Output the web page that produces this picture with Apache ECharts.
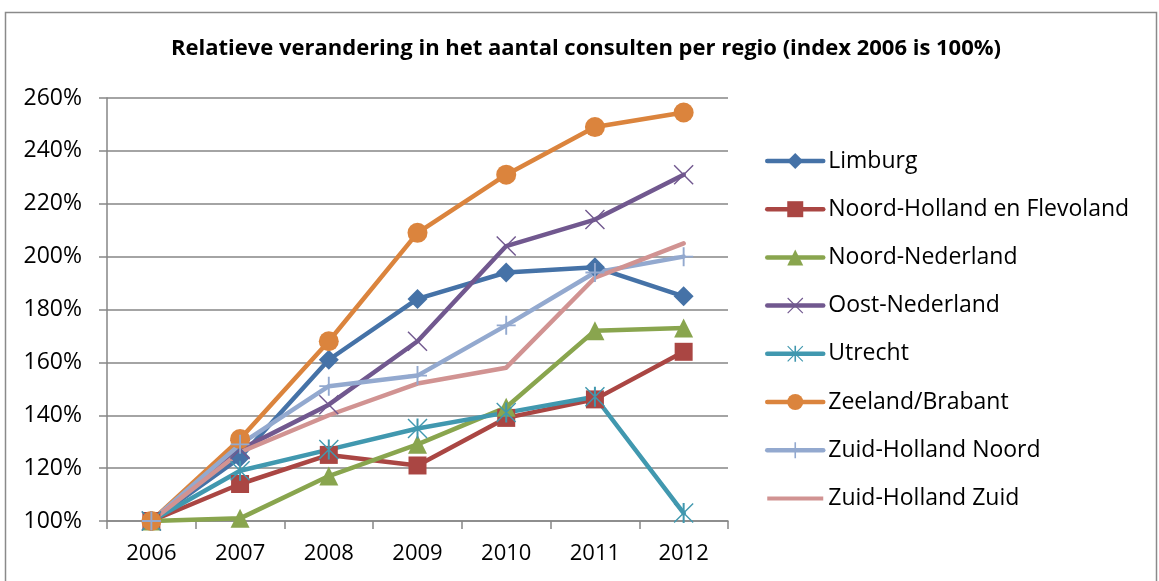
<!DOCTYPE html>
<html>
<head>
<meta charset="utf-8">
<script src="https://cdn.jsdelivr.net/npm/echarts@6/dist/echarts.min.js"></script>
<style>
html,body{margin:0;padding:0;background:#fff;}
#chart{width:1159px;height:581px;}
</style>
</head>
<body>
<div id="chart"></div>
<script>
var titleText = 'Relatieve verandering in het aantal consulten per regio (index 2006 is 100%)';
var categories = ['2006', '2007', '2008', '2009', '2010', '2011', '2012'];
var seriesNames = ['Limburg', 'Noord-Holland en Flevoland', 'Noord-Nederland', 'Oost-Nederland', 'Utrecht', 'Zeeland/Brabant', 'Zuid-Holland Noord', 'Zuid-Holland Zuid'];
var limburg        = [100, 124, 161, 184, 194, 196, 185];
var nhFlevoland    = [100, 114, 125, 121, 139, 146, 164];
var noordNederland = [100, 101, 117, 129, 143, 172, 173];
var oostNederland  = [100, 127, 144, 168, 204, 214, 231];
var utrecht        = [100, 119, 127, 135, 141, 147, 103];
var zeelandBrabant = [100, 131, 168, 209, 231, 249, 254.5];
var zhNoord        = [100, 129, 151, 155, 174, 194, 200];
var zhZuid         = [100, 126, 140, 152, 158, 192, 205];
var yTicks = {min: 100, max: 260, interval: 20};

var FONT = '"Open Sans", Lato, sans-serif';
var colors = ['#4572A7', '#AA4643', '#89A54E', '#71588F', '#4198AF', '#DB843D', '#93A9CF', '#D19392'];
var P_X = 'path://M-9,-10 L10,9 L9,10 L-10,-9 Z M10,-9 L-9,10 L-10,9 L9,-10 Z';
var P_STAR = 'path://M-9,-10 L10,9 L9,10 L-10,-9 Z M10,-9 L-9,10 L-10,9 L9,-10 Z M-1,-10 L1,-10 L1,10 L-1,10 Z';
var P_PLUS = 'path://M-1,-10 L1,-10 L1,10 L-1,10 Z M-10,-1 L10,-1 L10,1 L-10,1 Z';
var P_LINE = 'path://M0,6 L56,6 L56,10 L0,10 Z';
var symbols = ['diamond', 'rect', 'triangle', P_X, P_STAR, 'circle', P_PLUS, 'none'];
var sizes = [20, 18, 19, 20, 20, 20, 19, 0];
var dataArr = [limburg, nhFlevoland, noordNederland, oostNederland, utrecht, zeelandBrabant, zhNoord, zhZuid];

var series = dataArr.map(function (d, i) {
  return {
    name: seriesNames[i],
    type: 'line',
    data: d,
    symbol: symbols[i],
    symbolSize: sizes[i],
    showSymbol: symbols[i] !== 'none',
    color: colors[i],
    lineStyle: {width: 4.5, color: colors[i], cap: 'round', join: 'round'},
    itemStyle: {color: colors[i]},
    emphasis: {disabled: true}
  };
});

var legendData = seriesNames.map(function (n, i) {
  return symbols[i] === 'none' ? {name: n, icon: P_LINE} : {name: n};
});

var chart = echarts.init(document.getElementById('chart'));
chart.setOption({
  animation: false,
  backgroundColor: '#fff',
  title: {
    text: titleText,
    left: 581, textAlign: 'center',
    top: 33,
    textStyle: {fontFamily: FONT, fontWeight: 'bold', fontSize: 22, color: '#000'}
  },
  graphic: [{
    type: 'rect', silent: true,
    shape: {x: 5.5, y: 12.5, width: 1151, height: 600},
    style: {fill: 'none', stroke: '#8a8a8a', lineWidth: 1.5}
  }],
  legend: {
    orient: 'vertical',
    left: 765, top: 149, padding: 0,
    itemWidth: 56, itemHeight: 20, itemGap: 24.2,
    lineStyle: {width: 4.5},
    textStyle: {fontFamily: FONT, fontSize: 23, color: '#000', lineHeight: 24},
    data: legendData
  },
  grid: {left: 107, right: 431, top: 98, bottom: 60, containLabel: false},
  xAxis: {
    type: 'category',
    data: categories,
    boundaryGap: true,
    axisLine: {lineStyle: {color: '#868686', width: 1.5}},
    axisTick: {show: true, length: 8, lineStyle: {color: '#868686', width: 1.5}},
    axisLabel: {fontFamily: FONT, fontSize: 22, color: '#000', margin: 22}
  },
  yAxis: {
    type: 'value',
    min: yTicks.min, max: yTicks.max, interval: yTicks.interval,
    axisLine: {show: true, lineStyle: {color: '#868686', width: 1.5}},
    axisTick: {show: true, length: 8, lineStyle: {color: '#868686', width: 1.5}},
    splitLine: {lineStyle: {color: '#868686', width: 1.5}},
    axisLabel: {fontFamily: FONT, fontSize: 23, color: '#000', margin: 25, formatter: '{value}%'}
  },
  series: series
});
</script>
</body>
</html>
